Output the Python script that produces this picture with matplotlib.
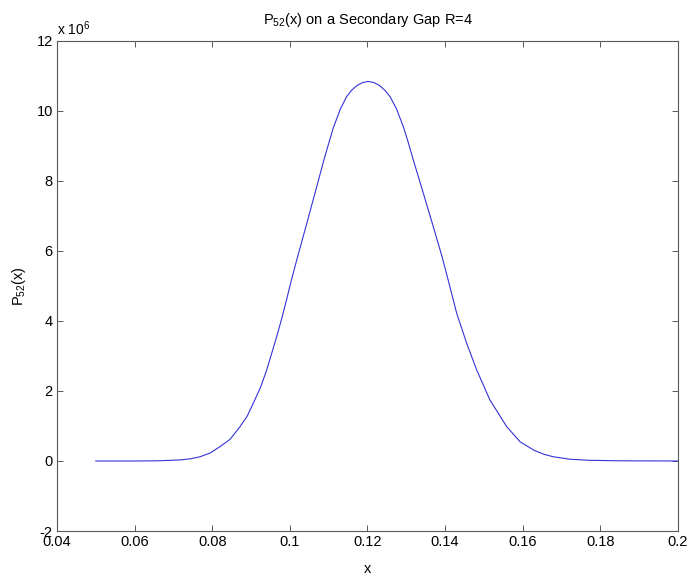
import numpy as np
import matplotlib
matplotlib.use("Agg")
import matplotlib.pyplot as plt

plt.rcParams["font.family"] = ["Liberation Sans", "DejaVu Sans"]
plt.rcParams["mathtext.fontset"] = "custom"
plt.rcParams["mathtext.rm"] = "Liberation Sans"
plt.rcParams["mathtext.it"] = "Liberation Sans:italic"

# points (y in units of 1e6)
x_vals = [0.05, 0.06, 0.066, 0.0717, 0.0745, 0.07684, 0.0795, 0.0820, 0.0846, 0.08715,
          0.0890, 0.09058, 0.0925, 0.09403, 0.0953, 0.0966, 0.0979, 0.09918, 0.1004, 0.10201,
          0.10412, 0.10647, 0.1087, 0.1100, 0.1112, 0.1130, 0.11464, 0.1160, 0.1175, 0.1188,
          0.1202, 0.1216, 0.1229, 0.1244, 0.1258, 0.1275, 0.12923, 0.1305, 0.1318, 0.13438,
          0.13696, 0.1392, 0.1406, 0.14298, 0.14556, 0.14814, 0.15156, 0.15587, 0.1593, 0.1630,
          0.1655, 0.1679, 0.1722, 0.177, 0.185, 0.2]
y_vals = [0.0, 0.0, 0.005, 0.03, 0.065, 0.12, 0.23, 0.41, 0.62, 0.98,
          1.28, 1.65, 2.12, 2.6, 3.07, 3.55, 4.07, 4.62, 5.17, 5.84,
          6.69, 7.65, 8.57, 9.07, 9.52, 10.05, 10.41, 10.6, 10.74, 10.81,
          10.84, 10.81, 10.74, 10.6, 10.41, 10.05, 9.55, 9.1, 8.6, 7.65,
          6.69, 5.84, 5.25, 4.22, 3.36, 2.6, 1.74, 0.98, 0.55, 0.3,
          0.19, 0.12, 0.05, 0.02, 0.005, 0.0]

x_ticks = [0.04, 0.06, 0.08, 0.1, 0.12, 0.14, 0.16, 0.18, 0.2]
x_tick_labels = ["0.04", "0.06", "0.08", "0.1", "0.12", "0.14", "0.16", "0.18", "0.2"]
y_ticks = [-2, 0, 2, 4, 6, 8, 10, 12]
y_tick_labels = ["-2", "0", "2", "4", "6", "8", "10", "12"]

axis_color = "0.35"

fig = plt.figure(figsize=(6.9, 5.78), dpi=100)
ax = fig.add_axes([0.0826, 0.0813, 0.9, 0.848])

ax.plot(x_vals, y_vals, color=(0.2, 0.2, 0.85), linewidth=0.8)

ax.set_xlim(0.04, 0.2)
ax.set_ylim(-2, 12)
ax.set_xticks(x_ticks)
ax.set_xticklabels(x_tick_labels)
ax.set_yticks(y_ticks)
ax.set_yticklabels(y_tick_labels)

ax.tick_params(direction="in", length=4.5, width=0.7, color=axis_color,
               labelsize=10.5, top=True, right=True, pad=3)
for s in ax.spines.values():
    s.set_color(axis_color)
    s.set_linewidth(0.8)

ax.set_title("P$_{52}$(x) on a Secondary Gap R=4", fontsize=10.5, pad=12)
ax.set_xlabel("x", fontsize=10.5, labelpad=9)
ax.set_ylabel("P$_{52}$(x)", fontsize=10.5, labelpad=6)
ax.text(0.0, 1.005, "x 10$^{6}$", transform=ax.transAxes, fontsize=10,
        ha="left", va="bottom")

fig.savefig("out.png", dpi=100)
